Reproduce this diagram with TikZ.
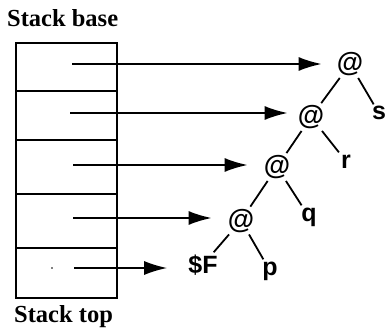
\documentclass[tikz,border=0pt]{standalone}
\usepackage{fontspec}
\setmainfont{Liberation Serif}
\newfontfamily\treefont{Liberation Sans}
\usetikzlibrary{arrows.meta}
\begin{document}
\begin{tikzpicture}[x=1pt,y=-1pt,
  cell/.style={draw, line width=1.8pt, minimum width=101pt, inner sep=0pt, anchor=north west},
  ptr/.style={line width=1.8pt, -{Latex[length=23pt,width=14pt]}},
  tnode/.style={font=\treefont\bfseries\fontsize{25}{25}\selectfont, inner sep=2pt, anchor=base},
  apnode/.style={tnode, font=\treefont\bfseries\fontsize{27}{27}\selectfont},
  edge/.style={line width=1.8pt},
  caption/.style={font=\bfseries\fontsize{24.5}{24.5}\selectfont, anchor=base west, inner sep=0pt}]
  \useasboundingbox (0,0) rectangle (386,329);

  % captions
  \node[caption] (base) at (7,27) {Stack base};
  \node[caption] (top) at (14,322) {Stack top};

  % stack cells
  \node[cell, minimum height=48pt] (c1) at (15,42) {};
  \node[cell, minimum height=49pt] (c2) at (15,90) {};
  \node[cell, minimum height=54pt] (c3) at (15,139) {};
  \node[cell, minimum height=54pt] (c4) at (15,193) {};
  \node[cell, minimum height=50pt] (c5) at (15,247) {};
  \fill (52,268) circle (0.8pt);

  % pointer tails
  \coordinate (p1) at (72,64);
  \coordinate (p2) at (70,113);
  \coordinate (p3) at (73,165);
  \coordinate (p4) at (73,218);
  \coordinate (p5) at (74,268);

  % application spine (placed by baseline)
  \node[apnode] (a1) at (350,71.5) {@};
  \node[apnode] (a2) at (311,124.5) {@};
  \node[apnode] (a3) at (277,174.5) {@};
  \node[apnode] (a4) at (241,228) {@};
  \node[tnode] (f) at (203,273) {\$F};
  \node[tnode] (p) at (270,275) {p};
  \node[tnode] (q) at (309,221) {q};
  \node[tnode] (r) at (346,168) {r};
  \node[tnode] (s) at (379,120) {s};

  % pointers from stack to spine
  \draw[ptr, shorten >=13pt] (p1) -- (p1 -| a1.west);
  \draw[ptr, shorten >=8pt] (p2) -- (p2 -| a2.west);
  \draw[ptr, shorten >=14pt] (p3) -- (p3 -| a3.west);
  \draw[ptr, shorten >=14pt] (p4) -- (p4 -| a4.west);
  \draw[ptr, shorten >=19pt] (p5) -- (p5 -| f.west);

  % tree edges
  \draw[edge] (a1) -- (a2);
  \draw[edge] (a1) -- (s);
  \draw[edge] (a2) -- (a3);
  \draw[edge] (a2) -- (r);
  \draw[edge] (a3) -- (a4);
  \draw[edge] (a3) -- (q);
  \draw[edge] (a4) -- (f);
  \draw[edge] (a4) -- (p);
\end{tikzpicture}
\end{document}
